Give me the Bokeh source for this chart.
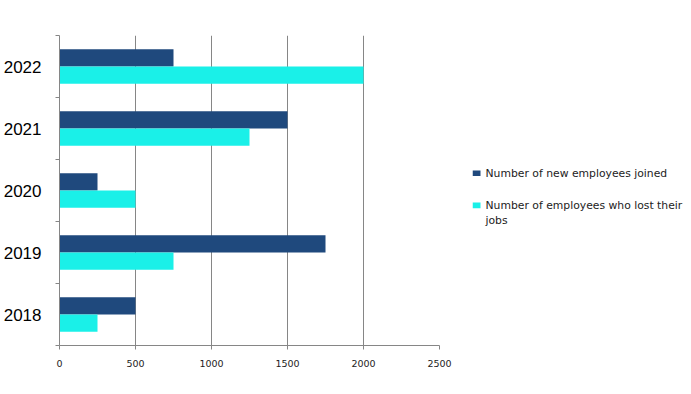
from bokeh.plotting import figure
from bokeh.models import ColumnDataSource, FixedTicker, Range1d
from bokeh.core.properties import value
from bokeh.layouts import row
from bokeh.transform import dodge
from bokeh.embed import file_html
from bokeh.resources import INLINE

years = ["2018", "2019", "2020", "2021", "2022"]
new_joined = [500, 1750, 250, 1500, 750]
lost_jobs = [250, 750, 500, 1250, 2000]
x_ticks = [0, 500, 1000, 1500, 2000, 2500]
series_names = ["Number of new employees joined",
                "Number of employees who lost their\njobs"]
colors = ["#1F497D", "#1AF0E8"]

pos = [i + 0.5 for i in range(len(years))]
src = ColumnDataSource(dict(y=pos, new=new_joined, lost=lost_jobs, year=years))

H = 386
p = figure(width=472, height=H, output_backend="svg", toolbar_location=None,
           x_range=Range1d(0, 2500), y_range=Range1d(0, len(years)),
           min_border_left=58, min_border_top=35, min_border_bottom=41,
           min_border_right=33)
p.outline_line_color = None

bh = 0.28
p.hbar(y=dodge("y", bh / 2, range=p.y_range), right="new", left=0, height=bh,
       source=src, fill_color=colors[0], line_color=None)
p.hbar(y=dodge("y", -bh / 2, range=p.y_range), right="lost", left=0, height=bh,
       source=src, fill_color=colors[1], line_color=None)

# axes
p.xaxis.ticker = FixedTicker(ticks=x_ticks)
p.xaxis.axis_line_color = "#868686"
p.xaxis.major_tick_line_color = "#868686"
p.xaxis.major_tick_out = 4
p.xaxis.major_tick_in = 0
p.xaxis.minor_tick_line_color = None
p.xaxis.major_label_text_font = "DejaVu Sans"
p.xaxis.major_label_text_font_size = "9.5px"
p.xaxis.major_label_text_color = "#222222"
p.xaxis.major_label_standoff = 10

p.yaxis.ticker = FixedTicker(ticks=pos, minor_ticks=list(range(len(years) + 1)))
p.yaxis.major_label_overrides = {pv: y for pv, y in zip(pos, years)}
p.yaxis.axis_line_color = "#868686"
p.yaxis.major_tick_line_color = None
p.yaxis.major_tick_out = 0
p.yaxis.major_tick_in = 0
p.yaxis.minor_tick_line_color = "#868686"
p.yaxis.minor_tick_out = 4
p.yaxis.minor_tick_in = 0
p.yaxis.major_label_text_font = "Liberation Sans"
p.yaxis.major_label_text_font_size = "17px"
p.yaxis.major_label_text_color = "#000000"
p.yaxis.major_label_standoff = 14

p.xgrid.ticker = FixedTicker(ticks=x_ticks)
p.xgrid.grid_line_color = "#868686"
p.ygrid.grid_line_color = None

# legend panel (screen-like coordinates, y downward)
LW = 217
lg = figure(width=LW, height=H, output_backend="svg", toolbar_location=None,
            x_range=Range1d(0, LW), y_range=Range1d(H, 0),
            min_border_left=0, min_border_right=0, min_border_top=0, min_border_bottom=0)
lg.axis.visible = False
lg.grid.visible = False
lg.outline_line_color = None

row_top, row_step, line_step = 171.5, 40, 19
sq = dict(x=[], y=[], c=[])
tx = dict(x=[], y=[], t=[])
for i, (name, c) in enumerate(zip(series_names, colors)):
    yc = row_top + i * row_step
    sq["x"].append(4); sq["y"].append(yc); sq["c"].append(c)
    for k, line in enumerate(name.split("\n")):
        tx["x"].append(13); tx["y"].append(yc + k * line_step); tx["t"].append(line)

lg.rect(x="x", y="y", width=8, height=7, fill_color="c", line_color=None,
        source=ColumnDataSource(sq))
lg.text(x="x", y="y", text="t", source=ColumnDataSource(tx),
        text_font=value("DejaVu Sans"), text_font_size="10.8px",
        text_color="#222222", text_baseline="middle", text_align="left")

layout = row(p, lg)
open("out.html", "w").write(file_html(layout, INLINE))
